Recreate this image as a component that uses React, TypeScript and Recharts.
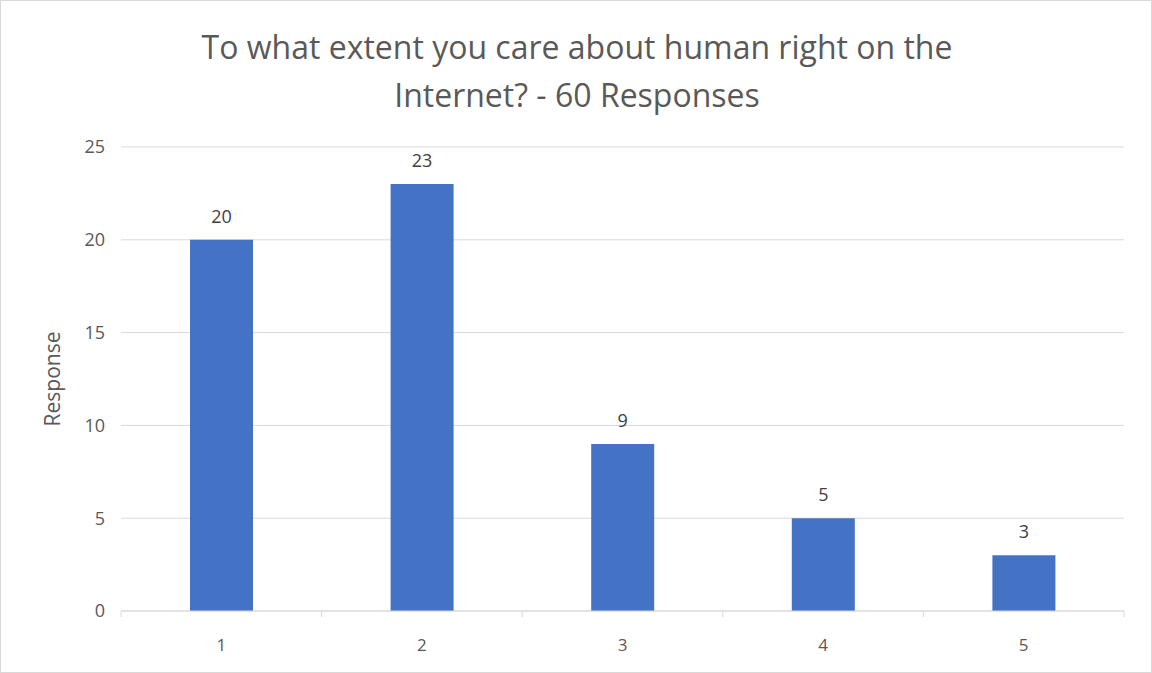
import React from 'react';
import {
  BarChart,
  Bar,
  XAxis,
  YAxis,
  CartesianGrid,
  LabelList,
} from 'recharts';

const ratings = ['1', '2', '3', '4', '5'];
const responses = [20, 23, 9, 5, 3];
const yTicks = [0, 5, 10, 15, 20, 25];

const data = ratings.map((r, i) => ({ rating: r, value: responses[i] }));

const FONT = '"Open Sans", "Noto Sans", sans-serif';
const TEXT = '#595959';
const GRID = '#D9D9D9';

const CHART_W = 1150;
const CHART_H = 671;
const MARGIN = { top: 146, right: 27, bottom: 0, left: 0 };
const Y_AXIS_W = 120;
const BAND = (CHART_W - MARGIN.left - MARGIN.right - Y_AXIS_W) / ratings.length;
const TICK_GAP = 28;

// category label plus the small separator ticks between categories
const RatingTick = (props: any) => {
  const { x, y, payload, index } = props;
  const axisY = y - TICK_GAP;
  const last = index === ratings.length - 1;
  return (
    <g>
      <line x1={x - BAND / 2} x2={x - BAND / 2} y1={axisY} y2={axisY + 6} stroke={GRID} />
      {last && (
        <line x1={x + BAND / 2} x2={x + BAND / 2} y1={axisY} y2={axisY + 6} stroke={GRID} />
      )}
      <text x={x} y={y} dy="0.71em" textAnchor="middle" fill={TEXT} fontSize={17} fontFamily={FONT}>
        {payload.value}
      </text>
    </g>
  );
};

export default function App() {
  return (
    <div
      style={{
        position: 'absolute',
        left: 0,
        top: 0,
        width: 1152,
        height: 673,
        background: '#fff',
        boxSizing: 'border-box',
        border: `1px solid ${GRID}`,
        fontFamily: FONT,
      }}
    >
      <div
        style={{
          position: 'absolute',
          top: 22,
          left: 0,
          width: 1152,
          textAlign: 'center',
          fontSize: 32,
          lineHeight: '48px',
          color: TEXT,
        }}
      >
        To what extent you care about human right on the
        <br />
        Internet? - 60 Responses
      </div>
      <BarChart
        width={CHART_W}
        height={CHART_H}
        data={data}
        margin={MARGIN}
        style={{ position: 'absolute', left: 0, top: 0 }}
      >
        <CartesianGrid vertical={false} stroke={GRID} strokeWidth={1} />
        <XAxis
          dataKey="rating"
          height={61}
          axisLine={{ stroke: GRID }}
          tickLine={false}
          tickSize={0}
          tickMargin={TICK_GAP}
          tick={<RatingTick />}
        />
        <YAxis
          width={Y_AXIS_W}
          domain={[0, 25]}
          ticks={yTicks}
          axisLine={false}
          tickLine={false}
          tickMargin={10}
          tick={{ fill: TEXT, fontSize: 18, fontFamily: FONT }}
          label={{
            value: 'Response',
            angle: -90,
            position: 'insideLeft',
            offset: 52,
            style: { textAnchor: 'middle', fill: TEXT, fontSize: 21, fontFamily: FONT },
          }}
        />
        <Bar dataKey="value" fill="#4472C4" barSize={63} isAnimationActive={false}>
          <LabelList
            dataKey="value"
            position="top"
            offset={17}
            style={{ fill: '#404040', fontSize: 18, fontFamily: FONT }}
          />
        </Bar>
      </BarChart>
    </div>
  );
}
